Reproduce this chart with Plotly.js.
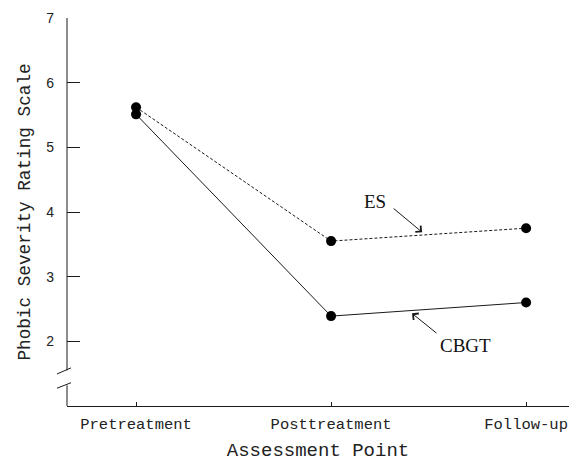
<!DOCTYPE html>
<html>
<head>
<meta charset="utf-8">
<script src="https://cdn.plot.ly/plotly-3.0.1.min.js"></script>
<style>
html,body{margin:0;padding:0;background:#fff;}
#chart{width:569px;height:462px;}
</style>
</head>
<body>
<div id="chart"></div>
<script>
// Data
const assessmentPoints = ["Pretreatment", "Posttreatment", "Follow-up"];
const esValues = [5.62, 3.55, 3.75];
const cbgtValues = [5.51, 2.39, 2.60];
const yTickValues = [2, 3, 4, 5, 6, 7];
const seriesLabels = ["ES", "CBGT"];

const ink = "#1a1a1a";
const mono = "Liberation Mono, Courier New, monospace";

const traces = [
  {
    x: assessmentPoints, y: esValues, name: seriesLabels[0],
    type: "scatter", mode: "lines+markers",
    line: {color: ink, width: 1, dash: "3px,2px"},
    marker: {color: "#000", size: 10}
  },
  {
    x: assessmentPoints, y: cbgtValues, name: seriesLabels[1],
    type: "scatter", mode: "lines+markers",
    line: {color: ink, width: 1},
    marker: {color: "#000", size: 10}
  }
];

const layout = {
  width: 569, height: 462,
  margin: {l: 67, r: 0, t: 18, b: 56},
  paper_bgcolor: "#fff", plot_bgcolor: "#fff",
  showlegend: false,
  xaxis: {
    type: "category",
    range: [-0.354, 2.22],
    showline: true, linecolor: ink, linewidth: 1,
    ticks: "inside", ticklen: 4, tickcolor: ink,
    showgrid: false, zeroline: false,
    ticklabelstandoff: 3,
    tickfont: {family: mono, size: 15.5, color: "#222"},
    title: {text: "Assessment Point", font: {family: mono, size: 19, color: "#222"}, standoff: 19}
  },
  yaxis: {
    range: [1, 7],
    tickvals: yTickValues,
    showline: false,
    ticks: "inside", ticklen: 13, tickcolor: ink,
    showgrid: false, zeroline: false,
    ticklabelstandoff: 12,
    tickfont: {family: "Liberation Sans, Arial, sans-serif", size: 14, color: "#222"},
    title: {text: "Phobic Severity Rating Scale", font: {family: mono, size: 17.7, color: "#222"}, standoff: 11}
  },
  shapes: [
    {type: "line", xref: "paper", yref: "y", x0: 0, x1: 0, y0: 7, y1: 1.551, line: {color: ink, width: 1}},
    {type: "line", xref: "paper", yref: "y", x0: 0, x1: 0, y0: 1.319, y1: 1, line: {color: ink, width: 1}},
    {type: "line", xref: "paper", yref: "y", x0: -0.02, x1: 0.008, y0: 1.495, y1: 1.59, line: {color: ink, width: 1}},
    {type: "line", xref: "paper", yref: "y", x0: -0.02, x1: 0.008, y0: 1.275, y1: 1.36, line: {color: ink, width: 1}}
  ],
  annotations: [
    {x: 1.226, y: 4.167, xref: "x", yref: "y", text: seriesLabels[0], showarrow: false,
     font: {family: "Liberation Serif, Times New Roman, serif", size: 19, color: "#111"}},
    {x: 1.467, y: 3.687, xref: "x", yref: "y", text: "", showarrow: true,
     ax: -30, ay: -25, arrowhead: 4, arrowsize: 1.6, arrowwidth: 1, arrowcolor: ink, standoff: 0},
    {x: 1.687, y: 1.938, xref: "x", yref: "y", text: seriesLabels[1], showarrow: false,
     font: {family: "Liberation Serif, Times New Roman, serif", size: 19, color: "#111"}},
    {x: 1.415, y: 2.433, xref: "x", yref: "y", text: "", showarrow: true,
     ax: 26, ay: 21, arrowhead: 4, arrowsize: 1.6, arrowwidth: 1, arrowcolor: ink, standoff: 0}
  ]
};

Plotly.newPlot("chart", traces, layout, {staticPlot: true, displayModeBar: false});
</script>
</body>
</html>
